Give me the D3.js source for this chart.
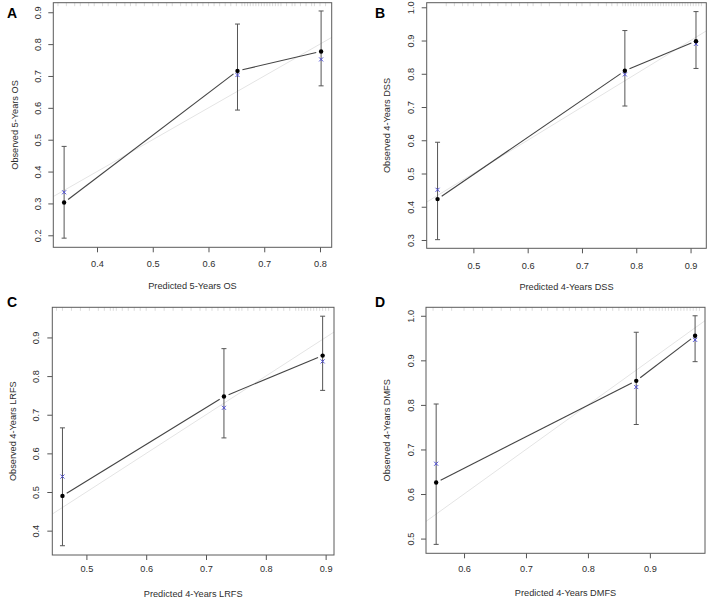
<!DOCTYPE html>
<html>
<head>
<meta charset="utf-8">
<script src="https://cdn.jsdelivr.net/npm/d3@7"></script>
<style>
  html, body { margin: 0; padding: 0; background: #fff; }
  svg { display: block; font-family: "Liberation Sans", Arial, Helvetica, sans-serif; }
</style>
</head>
<body>
<svg id="chart" width="709" height="600"></svg>
<script>
// ---------------- DATA ----------------
const panelLabels = ["A", "B", "C", "D"];
const xTitles = ["Predicted 5-Years OS", "Predicted 4-Years DSS", "Predicted 4-Years LRFS", "Predicted 4-Years DMFS"];
const yTitles = ["Observed 5-Years OS", "Observed 4-Years DSS", "Observed 4-Years LRFS", "Observed 4-Years DMFS"];

const predictedA = [0.341, 0.652, 0.802];
const observedA  = [0.303, 0.716, 0.777];
const lowerA     = [0.191, 0.593, 0.669];
const upperA     = [0.479, 0.863, 0.904];
const correctedA = [0.335, 0.703, 0.752];

const predictedB = [0.434, 0.779, 0.910];
const observedB  = [0.423, 0.809, 0.898];
const lowerB     = [0.301, 0.703, 0.816];
const upperB     = [0.594, 0.930, 0.987];
const correctedB = [0.451, 0.798, 0.890];

const predictedC = [0.460, 0.730, 0.895];
const observedC  = [0.490, 0.747, 0.853];
const lowerC     = [0.361, 0.640, 0.763];
const upperC     = [0.666, 0.871, 0.955];
const correctedC = [0.540, 0.718, 0.838];

const predictedD = [0.555, 0.878, 0.973];
const observedD  = [0.626, 0.854, 0.955];
const lowerD     = [0.487, 0.756, 0.897];
const upperD     = [0.802, 0.963, 1.000];
const correctedD = [0.668, 0.840, 0.946];

const xTicksA = [0.4, 0.5, 0.6, 0.7, 0.8];
const yTicksA = [0.2, 0.3, 0.4, 0.5, 0.6, 0.7, 0.8, 0.9];
const xTicksB = [0.5, 0.6, 0.7, 0.8, 0.9];
const yTicksB = [0.3, 0.4, 0.5, 0.6, 0.7, 0.8, 0.9, 1.0];
const xTicksC = [0.5, 0.6, 0.7, 0.8, 0.9];
const yTicksC = [0.4, 0.5, 0.6, 0.7, 0.8, 0.9];
const xTicksD = [0.6, 0.7, 0.8, 0.9];
const yTicksD = [0.5, 0.6, 0.7, 0.8, 0.9, 1.0];

// distribution of predicted values (rug along top), read approximately
const rugA = [0.33,0.345,0.36,0.37,0.385,0.395,0.41,0.42,0.435,0.45,0.46,0.47,0.485,0.50,0.51,0.525,0.535,0.55,0.56,0.57,0.58,0.59,0.60,0.61,0.62,0.63,0.64,0.65,0.66,0.665,0.67,0.675,0.68,0.685,0.69,0.695,0.70,0.705,0.71,0.715,0.72,0.725,0.73,0.74,0.75,0.755,0.765,0.775,0.785,0.79,0.80,0.81];
const rugB = [0.45,0.465,0.48,0.49,0.50,0.515,0.53,0.545,0.56,0.57,0.585,0.60,0.61,0.625,0.64,0.66,0.675,0.69,0.70,0.715,0.73,0.745,0.755,0.765,0.775,0.78,0.785,0.79,0.795,0.80,0.805,0.81,0.815,0.82,0.825,0.83,0.835,0.84,0.845,0.85,0.855,0.86,0.865,0.87,0.875,0.88,0.885,0.89,0.895,0.90,0.905,0.91,0.915,0.92];
const rugC = [0.45,0.46,0.475,0.49,0.505,0.52,0.53,0.54,0.545,0.55,0.56,0.57,0.58,0.59,0.60,0.615,0.63,0.645,0.66,0.675,0.69,0.70,0.71,0.72,0.73,0.74,0.75,0.755,0.76,0.77,0.78,0.79,0.80,0.81,0.82,0.83,0.84,0.85,0.855,0.86,0.865,0.87,0.875,0.88,0.885,0.89,0.895,0.90,0.905];
const rugD = [0.55,0.565,0.58,0.60,0.615,0.63,0.645,0.66,0.675,0.69,0.70,0.71,0.725,0.735,0.75,0.76,0.77,0.78,0.79,0.80,0.81,0.82,0.83,0.84,0.85,0.86,0.865,0.87,0.88,0.885,0.89,0.90,0.905,0.91,0.915,0.92,0.925,0.93,0.935,0.94,0.945,0.95,0.955,0.96,0.965,0.97,0.975,0.98];

// ---------------- LAYOUT ----------------
const panels = [
  { label: panelLabels[0], xt: xTitles[0], yt: yTitles[0], pred: predictedA, obs: observedA, lo: lowerA, hi: upperA, cor: correctedA, xt_: xTicksA, yt_: yTicksA, rug: rugA,
    box: [53.3, 2.7, 331.7, 247.3], xd: [0.3216, 0.821], yd: [0.1623, 0.930],
    labPos: [7, 18], xLabY: 263.5, xTitleY: 286, yLabX: 38, yTitleX: 15 },
  { label: panelLabels[1], xt: xTitles[1], yt: yTitles[1], pred: predictedB, obs: observedB, lo: lowerB, hi: upperB, cor: correctedB, xt_: xTicksB, yt_: yTicksB, rug: rugB,
    box: [426.7, 2.7, 706.3, 248.3], xd: [0.414, 0.929], yd: [0.275, 1.0138],
    labPos: [375, 18], xLabY: 266, xTitleY: 287.3, yLabX: 411, yTitleX: 387.3 },
  { label: panelLabels[2], xt: xTitles[2], yt: yTitles[2], pred: predictedC, obs: observedC, lo: lowerC, hi: upperC, cor: correctedC, xt_: xTicksC, yt_: yTicksC, rug: rugC,
    box: [52.3, 307.3, 334, 555], xd: [0.443, 0.914], yd: [0.337, 0.978],
    labPos: [7, 307], xLabY: 569.3, xTitleY: 594.3, yLabX: 36, yTitleX: 13.3 },
  { label: panelLabels[3], xt: xTitles[3], yt: yTitles[3], pred: predictedD, obs: observedD, lo: lowerD, hi: upperD, cor: correctedD, xt_: xTicksD, yt_: yTicksD, rug: rugD,
    box: [426, 307.3, 705, 553.3], xd: [0.5386, 0.989], yd: [0.467, 1.019],
    labPos: [375, 307], xLabY: 569.3, xTitleY: 592.7, yLabX: 410.7, yTitleX: 387.3 }
];

const svg = d3.select("#chart");
const fmt = d3.format(".1f");
const textCol = "#2e2e2e";
const FS = 9.2;

panels.forEach((p, i) => {
  const [x0, y0, x1, y1] = p.box;
  const x = d3.scaleLinear().domain(p.xd).range([x0, x1]);
  const y = d3.scaleLinear().domain(p.yd).range([y1, y0]);
  const g = svg.append("g");

  const clipId = "clip" + i;
  svg.append("clipPath").attr("id", clipId).append("rect")
    .attr("x", x0).attr("y", y0).attr("width", x1 - x0).attr("height", y1 - y0);

  // ideal line y = x
  const lo = Math.min(p.xd[0], p.yd[0]), hi = Math.max(p.xd[1], p.yd[1]);
  g.append("line").attr("clip-path", `url(#${clipId})`)
    .attr("x1", x(lo)).attr("y1", y(lo)).attr("x2", x(hi)).attr("y2", y(hi))
    .attr("stroke", "#e4e4e4").attr("stroke-width", 1);

  // rug at top
  g.append("g").selectAll("line").data(p.rug).join("line")
    .attr("x1", d => x(d)).attr("x2", d => x(d))
    .attr("y1", y0).attr("y2", y0 + 3.5)
    .attr("stroke", "#cccccc").attr("stroke-width", 0.7);

  // axes with d3
  const xAxis = d3.axisBottom(x).tickValues(p.xt_).tickFormat(fmt).tickSize(5).tickPadding(2);
  const yAxis = d3.axisLeft(y).tickValues(p.yt_).tickFormat(fmt).tickSize(5).tickPadding(2);
  const gx = g.append("g").attr("transform", `translate(0,${y1})`).call(xAxis);
  const gy = g.append("g").attr("transform", `translate(${x0},0)`).call(yAxis);
  [gx, gy].forEach(ax => {
    ax.select(".domain").remove();
    ax.selectAll(".tick line").attr("stroke", "#555");
    ax.selectAll(".tick text").attr("fill", textCol).style("font-size", FS + "px");
  });
  gx.selectAll(".tick text").attr("y", null).attr("dy", null)
    .attr("transform", `translate(0,${p.xLabY - y1})`).attr("dominant-baseline", "central");
  gy.selectAll(".tick text").attr("x", null).attr("dy", null)
    .attr("text-anchor", "middle")
    .attr("transform", `translate(${p.yLabX - x0},0) rotate(-90)`)
    .attr("dominant-baseline", "central");

  // box
  g.append("rect").attr("x", x0).attr("y", y0).attr("width", x1 - x0).attr("height", y1 - y0)
    .attr("fill", "none").attr("stroke", "#5a5a5a").attr("stroke-width", 1);

  // error bars
  const eb = g.append("g").attr("stroke", "#555").attr("stroke-width", 1);
  p.pred.forEach((v, k) => {
    const cx = x(v);
    eb.append("line").attr("x1", cx).attr("x2", cx).attr("y1", y(p.lo[k])).attr("y2", y(p.hi[k]));
    eb.append("line").attr("x1", cx - 2.5).attr("x2", cx + 2.5).attr("y1", y(p.lo[k])).attr("y2", y(p.lo[k]));
    eb.append("line").attr("x1", cx - 2.5).attr("x2", cx + 2.5).attr("y1", y(p.hi[k])).attr("y2", y(p.hi[k]));
  });

  // connecting line with gaps (R type="b")
  const gap = 5;
  for (let k = 0; k < p.pred.length - 1; k++) {
    const ax = x(p.pred[k]), ay = y(p.obs[k]);
    const bx = x(p.pred[k + 1]), by = y(p.obs[k + 1]);
    const len = Math.hypot(bx - ax, by - ay);
    const ux = (bx - ax) / len, uy = (by - ay) / len;
    g.append("line")
      .attr("x1", ax + ux * gap).attr("y1", ay + uy * gap)
      .attr("x2", bx - ux * gap).attr("y2", by - uy * gap)
      .attr("stroke", "#444").attr("stroke-width", 1.1);
  }

  // blue x markers (bias-corrected)
  const s = 2;
  const bxg = g.append("g").attr("stroke", "#4b4bd6").attr("stroke-width", 1);
  p.pred.forEach((v, k) => {
    const cx = x(v), cy = y(p.cor[k]);
    bxg.append("line").attr("x1", cx - s).attr("y1", cy - s).attr("x2", cx + s).attr("y2", cy + s);
    bxg.append("line").attr("x1", cx - s).attr("y1", cy + s).attr("x2", cx + s).attr("y2", cy - s);
  });

  // observed points
  g.append("g").selectAll("circle").data(p.pred).join("circle")
    .attr("cx", d => x(d)).attr("cy", (d, k) => y(p.obs[k])).attr("r", 2.2)
    .attr("fill", "#000");

  // axis titles
  g.append("text").attr("x", (x0 + x1) / 2).attr("y", p.xTitleY)
    .attr("text-anchor", "middle").attr("dominant-baseline", "central")
    .attr("fill", textCol).style("font-size", FS + "px").text(p.xt);
  g.append("text").attr("transform", `translate(${p.yTitleX},${(y0 + y1) / 2}) rotate(-90)`)
    .attr("text-anchor", "middle").attr("dominant-baseline", "central")
    .attr("fill", textCol).style("font-size", FS + "px").text(p.yt);

  // panel label
  svg.append("text").attr("x", p.labPos[0]).attr("y", p.labPos[1])
    .attr("fill", "#000").style("font-size", "14px").style("font-weight", "bold")
    .style("font-family", "'Liberation Sans', Arial, sans-serif")
    .text(p.label);
});
</script>
</body>
</html>
